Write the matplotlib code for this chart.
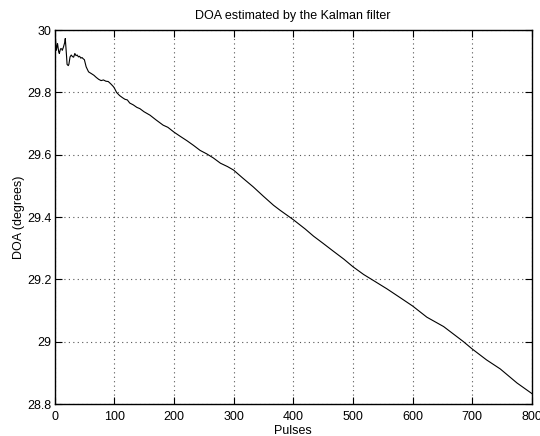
import matplotlib
matplotlib.use("Agg")
import matplotlib.pyplot as plt

pulses = [0, 1, 3, 5, 7, 8, 10, 12, 13, 15, 17, 18, 20, 21, 23, 24, 26, 28, 30, 32,
          34, 36, 38, 40, 42, 44, 46, 48, 50, 53, 57, 62, 66, 70, 74, 78, 82, 86, 90,
          94, 98, 100, 104, 109, 114, 118, 122, 126, 132, 138, 143, 150, 160, 170,
          182, 190, 200, 210, 222, 233, 244, 255, 266, 278, 290, 300, 315, 333, 350,
          367, 378, 400, 420, 434, 450, 467, 485, 500, 518, 535, 557, 579, 600, 624,
          652, 685, 700, 724, 747, 775, 800]
doa = [30.00, 29.99, 29.935, 29.957, 29.93, 29.925, 29.94, 29.94, 29.935, 29.946,
       29.96, 29.973, 29.92, 29.89, 29.886, 29.89, 29.914, 29.92, 29.915, 29.913,
       29.925, 29.918, 29.92, 29.914, 29.916, 29.91, 29.912, 29.908, 29.905, 29.882,
       29.866, 29.86, 29.855, 29.848, 29.842, 29.838, 29.840, 29.836, 29.835, 29.828,
       29.82, 29.815, 29.80, 29.79, 29.783, 29.778, 29.776, 29.766, 29.760, 29.752,
       29.748, 29.738, 29.727, 29.712, 29.695, 29.688, 29.673, 29.66, 29.645, 29.63,
       29.614, 29.603, 29.590, 29.573, 29.562, 29.551, 29.526, 29.497, 29.467,
       29.438, 29.422, 29.392, 29.362, 29.339, 29.316, 29.291, 29.265, 29.241,
       29.216, 29.196, 29.170, 29.142, 29.115, 29.079, 29.049, 29.001, 28.977,
       28.942, 28.913, 28.868, 28.834]

xticks = [0, 100, 200, 300, 400, 500, 600, 700, 800]
yticks = [28.8, 29, 29.2, 29.4, 29.6, 29.8, 30]
ytick_labels = ["28.8", "29", "29.2", "29.4", "29.6", "29.8", "30"]

plt.rcParams['font.family'] = ['Liberation Sans', 'DejaVu Sans']

fig = plt.figure(figsize=(5.4, 4.36), dpi=100)
ax = fig.add_axes([0.101, 0.073, 0.884, 0.858])
ax.plot(pulses, doa, color='black', linewidth=0.8)
ax.set_xlim(0, 800)
ax.set_ylim(28.8, 30)
ax.set_xticks(xticks)
ax.set_xticklabels([str(t) for t in xticks])
ax.set_yticks(yticks)
ax.set_yticklabels(ytick_labels)
ax.grid(True, linestyle=(0, (1, 3)), color='#555555', linewidth=0.8)
ax.tick_params(direction='in', top=True, right=True, labelsize=9, length=5, width=0.8, pad=2)
ax.tick_params(axis='x', pad=5)
for s in ax.spines.values():
    s.set_linewidth(1.0)
ax.set_title("DOA estimated by the Kalman filter", fontsize=9, pad=8)
ax.set_xlabel("Pulses", fontsize=9, labelpad=1)
ax.set_ylabel("DOA (degrees)", fontsize=9, labelpad=2)
fig.savefig("out.png", dpi=100)
